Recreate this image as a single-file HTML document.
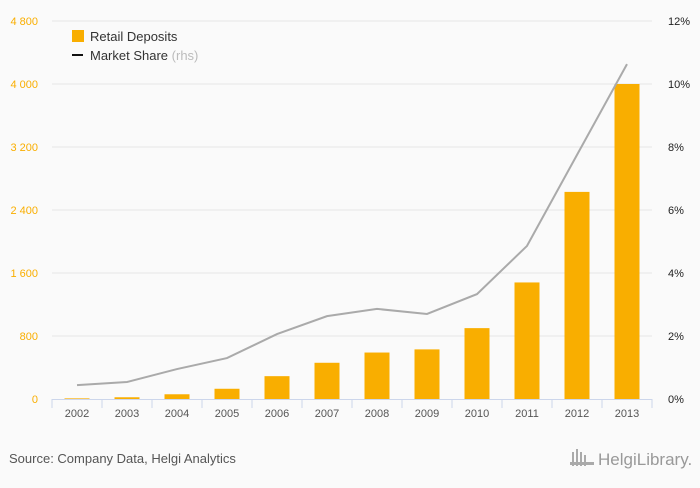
<!DOCTYPE html>
<html><head><meta charset="utf-8"><style>
body{margin:0;background:#fafafa;font-family:"Liberation Sans",sans-serif;}
svg text{font-family:"Liberation Sans",sans-serif;}
</style></head><body>
<svg width="700" height="483" xmlns="http://www.w3.org/2000/svg">
<rect width="700" height="483" fill="#fafafa"/>
<g id="grid"></g><g id="bars"></g><g id="line"></g><g id="axes"></g>
<g>
<rect x="72" y="30" width="12" height="12" fill="#f9ae00"/>
<text x="90" y="41" font-size="13" fill="#333">Retail Deposits</text>
<rect x="72" y="54" width="11" height="2" fill="#111"/>
<text x="90" y="60" font-size="13" fill="#333">Market Share <tspan fill="#bbb">(rhs)</tspan></text>
</g>
<text x="9" y="463" font-size="13" fill="#555">Source: Company Data, Helgi Analytics</text>
<text x="598" y="465" font-size="17" fill="#999" font-family="Liberation Serif">HelgiLibrary.</text>
<g fill="#aaa"><rect x="572" y="452" width="2" height="14"/><rect x="576" y="449" width="2" height="17"/><rect x="580" y="452" width="2" height="14"/><rect x="584" y="455" width="2" height="11"/><rect x="570" y="462" width="24" height="3"/></g>
</svg>
<script>
const categories=["2002","2003","2004","2005","2006","2007","2008","2009","2010","2011","2012","2013"];
const deposits=[8,22,60,130,290,460,590,630,900,1480,2630,4000];
const share=[0.44,0.54,0.95,1.3,2.06,2.63,2.86,2.7,3.33,4.86,7.75,10.63];
const leftTicks=[0,800,1600,2400,3200,4000,4800];
const leftLabels=["0","800","1 600","2 400","3 200","4 000","4 800"];
const rightTicks=[0,2,4,6,8,10,12];
const NS="http://www.w3.org/2000/svg";
const x0=52,x1=652,yB=399,yT=21;
const band=(x1-x0)/categories.length;
const xC=i=>x0+band*(i+0.5);
const yL=v=>yB-(v/4800)*(yB-yT);
const yR=v=>yB-(v/12)*(yB-yT);
function mk(tag,attrs,parent,txt){const e=document.createElementNS(NS,tag);for(const k in attrs)e.setAttribute(k,attrs[k]);if(txt!==undefined)e.textContent=txt;document.getElementById(parent).appendChild(e);return e;}
leftTicks.forEach((t,i)=>{
 if(t>0){const g=mk('line',{x1:x0,x2:x1,y1:yL(t),y2:yL(t),stroke:'#e6e6e6'},'grid');
 
 }
 const l=mk('text',{x:38,y:yL(t)+4,'font-size':11,fill:'#f9ae00','text-anchor':'end'},'axes',leftLabels[i]);
 
 
});
rightTicks.forEach(t=>{
 const l=mk('text',{x:668,y:yR(t)+4,'font-size':11,fill:'#222'},'axes',t+'%');
 
 
});
deposits.forEach((v,i)=>{
 const b=mk('rect',{x:xC(i)-12.5,y:yL(v),width:25,height:yB-yL(v),fill:'#f9ae00'},'bars');
 
 
});
const pl=mk('polyline',{points:share.map((v,i)=>xC(i)+','+yR(v)).join(' '),fill:'none',stroke:'#aaa','stroke-width':2},'line');


const ax=mk('line',{x1:x0,x2:x1,y1:yB+0.5,y2:yB+0.5,stroke:'#ccd6eb'},'axes');


for(let i=0;i<=categories.length;i++){
 const tk=mk('line',{x1:x0+band*i,x2:x0+band*i,y1:yB,y2:yB+9,stroke:'#ccd6eb'},'axes');
 
 
}
categories.forEach((c,i)=>{
 const l=mk('text',{x:xC(i),y:417,'font-size':11,fill:'#555','text-anchor':'middle'},'axes',c);
 
 
});
</script>
</body></html>
